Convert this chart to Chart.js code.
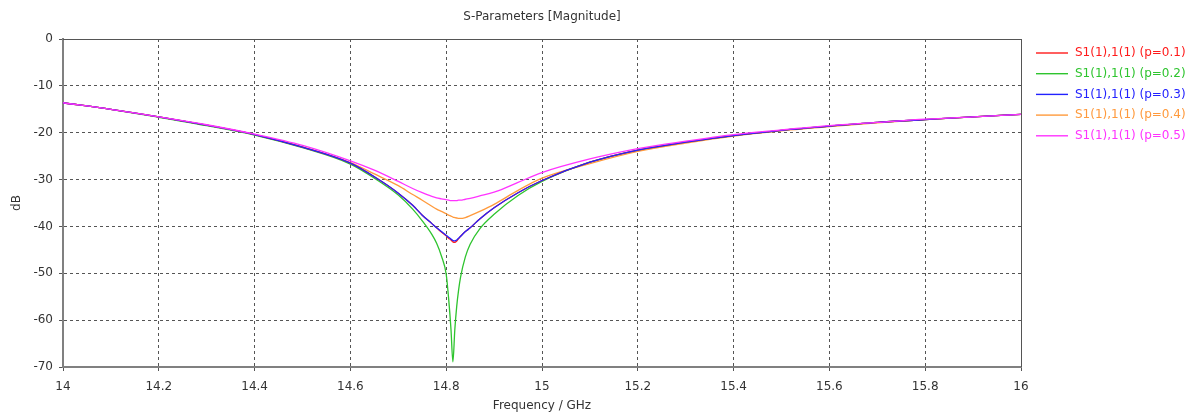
<!DOCTYPE html>
<html>
<head>
<meta charset="utf-8">
<script src="https://cdn.jsdelivr.net/npm/chart.js@4"></script>
<style>
  html, body { margin: 0; padding: 0; background: #fff; }
</style>
</head>
<body>
<canvas id="sparChart" width="1191" height="413"></canvas>
<script>
/* =====================================================
   DATA
===================================================== */

const freq = [14.0, 14.1, 14.2, 14.3, 14.4, 14.5, 14.6, 14.65, 14.7, 14.73, 14.75, 14.77, 14.78, 14.79,
  14.8, 14.805, 14.81, 14.814, 14.818, 14.822, 14.826, 14.83, 14.84, 14.85, 14.87, 14.9, 14.95,
  15.0, 15.1, 15.2, 15.3, 15.4, 15.5, 15.6, 15.7, 15.8, 15.9, 16.0];

const s11_p01 = [-13.6, -15.0, -16.6, -18.4, -20.4, -23.1, -26.5, -29.4, -32.9, -35.5, -37.6, -39.4, -40.3, -41.2,
  -42.0, -42.5, -42.9, -43.3, -43.4, -43.1, -42.6, -42.1, -41.1, -40.3, -38.4, -36.0, -32.8,
  -30.2, -26.3, -23.7, -22.0, -20.6, -19.5, -18.6, -17.8, -17.2, -16.6, -16.1];

const s11_p02 = [-13.6, -15.0, -16.7, -18.5, -20.5, -23.2, -26.7, -29.7, -33.3, -36.3, -38.8, -41.7, -43.6, -46.3,
  -50.2, -55.3, -62.0, -68.9, -62.0, -57.0, -53.5, -50.8, -46.5, -43.8, -40.5, -37.4, -33.4,
  -30.4, -26.3, -23.7, -22.0, -20.6, -19.5, -18.6, -17.8, -17.2, -16.6, -16.1];

const s11_p03 = [-13.6, -15.0, -16.6, -18.4, -20.4, -23.1, -26.5, -29.4, -32.9, -35.5, -37.6, -39.4, -40.3, -41.1,
  -41.9, -42.3, -42.7, -43.0, -43.1, -42.9, -42.5, -42.1, -41.1, -40.3, -38.4, -36.0, -32.8,
  -30.2, -26.3, -23.7, -22.0, -20.6, -19.5, -18.6, -17.8, -17.2, -16.6, -16.1];

const s11_p04 = [-13.6, -15.0, -16.6, -18.4, -20.4, -23.0, -26.4, -28.8, -31.3, -33.2, -34.4, -35.7, -36.3, -36.8,
  -37.3, -37.6, -37.8, -38.0, -38.1, -38.2, -38.3, -38.3, -38.1, -37.7, -36.8, -35.3, -32.3,
  -29.7, -26.6, -24.0, -22.2, -20.7, -19.6, -18.7, -17.9, -17.2, -16.6, -16.1];

const s11_p05 = [-13.6, -15.0, -16.6, -18.3, -20.3, -22.7, -26.0, -28.0, -30.4, -31.9, -32.8, -33.6, -33.9, -34.1,
  -34.3, -34.4, -34.5, -34.5, -34.5, -34.5, -34.4, -34.4, -34.2, -34.0, -33.5, -32.7, -30.6,
  -28.5, -25.6, -23.4, -21.8, -20.4, -19.4, -18.5, -17.8, -17.1, -16.6, -16.1];

const seriesLabels = [
  "S1(1),1(1) (p=0.1)",
  "S1(1),1(1) (p=0.2)",
  "S1(1),1(1) (p=0.3)",
  "S1(1),1(1) (p=0.4)",
  "S1(1),1(1) (p=0.5)"
];
const seriesValues = [s11_p01, s11_p02, s11_p03, s11_p04, s11_p05];
const seriesColors = ["#ff1a1a", "#2ec42e", "#2222ff", "#ff9a3c", "#ff33ff"];

const xTicks = [14, 14.2, 14.4, 14.6, 14.8, 15, 15.2, 15.4, 15.6, 15.8, 16];
const yTicks = [0, -10, -20, -30, -40, -50, -60, -70];
const chartTitle = "S-Parameters [Magnitude]";


/* =====================================================
   TITLE + FRAME + LEGEND PLUGIN
===================================================== */

const frameLegend = {
  id: "frameLegend",
  afterDraw(chart) {
    const { ctx, chartArea: a } = chart;
    ctx.save();

    // top and right border of the plot box
    ctx.strokeStyle = "#555";
    ctx.lineWidth = 1;
    ctx.beginPath();
    ctx.moveTo(a.left, a.top + 0.5);
    ctx.lineTo(a.right + 0.5, a.top + 0.5);
    ctx.lineTo(a.right + 0.5, a.bottom);
    ctx.stroke();

    // title centred over the plot box
    ctx.font = "12px 'DejaVu Sans'";
    ctx.fillStyle = "#333";
    ctx.textAlign = "center";
    ctx.textBaseline = "middle";
    ctx.fillText(chartTitle, (a.left + a.right) / 2, 17);

    // legend entries, coloured text
    ctx.textAlign = "left";
    ctx.lineWidth = 1.4;
    chart.data.datasets.forEach((ds, i) => {
      const y = a.top + 14 + i * 20.7;
      ctx.strokeStyle = ds.borderColor;
      ctx.beginPath();
      ctx.moveTo(a.right + 15, y);
      ctx.lineTo(a.right + 47, y);
      ctx.stroke();
      ctx.fillStyle = ds.borderColor;
      ctx.fillText(ds.label, a.right + 54, y);
    });

    ctx.restore();
  }
};


/* =====================================================
   CHART
===================================================== */

const datasets = seriesLabels.map((label, i) => ({
  label: label,
  data: freq.map((f, k) => ({ x: f, y: seriesValues[i][k] })),
  borderColor: seriesColors[i],
  borderWidth: 1.3,
  pointRadius: 0,
  fill: false,
  cubicInterpolationMode: "monotone",
  order: [3, 4, 2, 5, 1][i]
}));

new Chart(document.getElementById("sparChart"), {
  type: "line",
  data: { datasets: datasets },
  plugins: [frameLegend],
  options: {
    responsive: false,
    animation: false,
    devicePixelRatio: 1,
    layout: { padding: { left: 0, right: 170, top: 39, bottom: 0 } },
    plugins: {
      legend: { display: false },
      tooltip: { enabled: false },
      title: { display: false }
    },
    scales: {
      x: {
        type: "linear",
        min: 14,
        max: 16,
        afterFit: scale => { scale.height = 46; },
        afterBuildTicks: scale => { scale.ticks = xTicks.map(v => ({ value: v })); },
        ticks: {
          color: "#333",
          font: { family: "DejaVu Sans", size: 12 },
          padding: 9,
          maxRotation: 0,
          callback: v => String(v)
        },
        grid: { color: "#555", lineWidth: 1, tickLength: 4, tickColor: "#555" },
        border: { display: true, color: "#808080", width: 2, dash: [3, 3] },
        title: {
          display: true,
          text: "Frequency / GHz",
          color: "#333",
          font: { family: "DejaVu Sans", size: 12 },
          padding: { top: 0, bottom: 0 }
        }
      },
      y: {
        min: -70,
        max: 0,
        afterFit: scale => { scale.width = 63; },
        afterBuildTicks: scale => { scale.ticks = yTicks.map(v => ({ value: v })); },
        ticks: {
          color: "#333",
          font: { family: "DejaVu Sans", size: 12 },
          padding: 6
        },
        grid: { color: "#555", lineWidth: 1, tickLength: 4, tickColor: "#555" },
        border: { display: true, color: "#808080", width: 2, dash: [3, 3] },
        title: {
          display: true,
          text: "dB",
          color: "#333",
          font: { family: "DejaVu Sans", size: 12 },
          padding: { top: 10, bottom: 0 }
        }
      }
    }
  }
});
</script>
</body>
</html>
